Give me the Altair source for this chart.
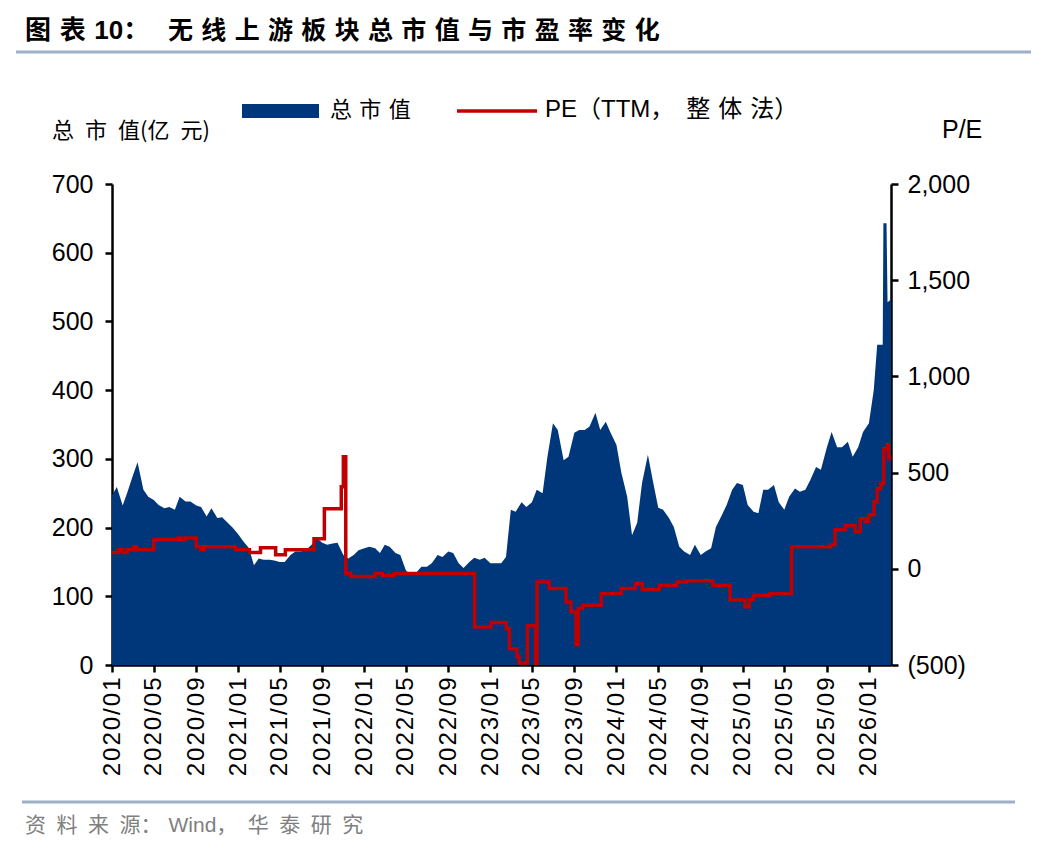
import altair as alt
import pandas as pd

# ---------------- data ----------------
# total market cap (亿元), semi-monthly samples from 2020-01-01 (1st & 15th of each month)
cap_start = "2020-01-01"
cap_values = [
    247, 259, 232, 252, 275, 295, 255, 245, 240, 233,
    228, 230, 226, 245, 238, 238, 232, 230, 216, 228,
    214, 215, 207, 200, 190, 180, 170, 145, 155, 153,
    153, 152, 150, 150, 160, 165, 165, 167, 175, 185,
    178, 175, 177, 178, 160, 155, 160, 167, 170, 172,
    170, 163, 175, 172, 163, 160, 138, 131, 135, 143,
    143, 148, 160, 157, 165, 163, 148, 141, 150, 156,
    153, 156, 148, 148, 148, 157, 226, 223, 237, 230,
    237, 255, 250, 303, 352, 342, 298, 303, 338, 342,
    342, 347, 367, 342, 354, 338, 320, 280, 245, 189,
    207, 265, 306, 269, 229, 226, 214, 201, 172, 165,
    160, 175, 160, 165, 170, 201, 218, 233, 255, 265,
    262, 233, 223, 221, 255, 255, 262, 237, 226, 245,
    257, 252, 255, 269, 288, 284, 316, 339, 317, 317,
    325, 303, 317, 339, 352, 400,
]
cap_tail_dates = ["2026-01-25", "2026-02-10", "2026-02-12", "2026-02-21", "2026-02-24", "2026-03-06"]
cap_tail_values = [466, 466, 643, 643, 528, 532]

# PE (TTM, 整体法) change points
pe_dates = [
    "2020-01-01", "2020-01-20", "2020-02-01", "2020-02-14", "2020-03-03", "2020-03-13",
    "2020-05-01", "2020-07-10", "2020-07-20", "2020-08-01", "2020-09-01", "2020-09-14",
    "2020-09-24", "2020-12-24", "2021-02-02", "2021-03-06", "2021-04-19", "2021-05-17",
    "2021-08-08", "2021-09-07", "2021-10-26", "2021-11-01", "2021-11-08", "2021-11-23",
    "2022-02-01", "2022-02-22", "2022-03-28", "2022-11-16", "2023-01-03", "2023-02-16",
    "2023-02-25", "2023-03-19", "2023-03-25", "2023-04-18", "2023-05-12", "2023-05-16",
    "2023-06-20", "2023-08-08", "2023-08-22", "2023-09-06", "2023-09-12", "2023-09-25",
    "2023-11-18", "2024-01-15", "2024-02-25", "2024-03-16", "2024-05-04", "2024-06-24",
    "2024-07-22", "2024-10-06", "2024-11-25", "2025-01-07", "2025-01-20", "2025-02-01",
    "2025-03-20", "2025-05-22", "2025-09-12", "2025-09-25", "2025-10-25", "2025-11-22",
    "2025-12-07", "2025-12-22", "2026-01-01", "2026-01-16", "2026-01-25", "2026-02-04",
    "2026-02-13", "2026-02-23", "2026-02-27", "2026-03-06",
]
pe_values = [
    85, 99, 85, 99, 114, 99,
    151, 160, 151, 160, 114, 99,
    114, 99, 85, 109, 73, 99,
    156, 312, 426, 582, -26, -40,
    -24, -36, -24, -302, -279, -312,
    -416, -456, -490, -296, -560, -68,
    -103, -172, -224, -395, -206, -189,
    -130, -103, -76, -109, -85, -68,
    -62, -85, -162, -197, -160, -137,
    -130, 114, 125, 203, 224, 192,
    260, 244, 281, 348, 416, 442,
    624, 645, 580, 560,
]

x_tick_labels = [
    "2020/01", "2020/05", "2020/09", "2021/01", "2021/05", "2021/09",
    "2022/01", "2022/05", "2022/09", "2023/01", "2023/05", "2023/09",
    "2024/01", "2024/05", "2024/09", "2025/01", "2025/05", "2025/09", "2026/01",
]
left_ticks = [0, 100, 200, 300, 400, 500, 600, 700]
right_ticks = [-500, 0, 500, 1000, 1500, 2000]

# ---------------- build tables ----------------
cap_dates = [d.strftime("%Y-%m-%d") for d in pd.date_range(cap_start, periods=len(cap_values), freq="SMS")]
cap_df = pd.DataFrame({"date": cap_dates + cap_tail_dates, "cap": cap_values + cap_tail_values})
pe_df = pd.DataFrame({"date": pe_dates, "pe": pe_values})

tick_vals = [alt.DateTime(year=int(s[:4]), month=int(s[5:]), date=1, utc=True) for s in x_tick_labels]

NAVY = "#00377A"
RED = "#C00000"
RULE = "#9DB0C8"
NUM_FONT = "Liberation Sans"
CJK_FONT = "Noto Sans CJK SC"
MIX_FONT = f"{NUM_FONT}, {CJK_FONT}"

W, H = 779, 481

x_scale = alt.Scale(
    type="utc",
    domain=[alt.DateTime(year=2020, month=1, date=1, utc=True),
            alt.DateTime(year=2026, month=3, date=6, utc=True)],
)

axis_common = dict(
    labelFont=NUM_FONT, labelColor="black",
    domainColor="black", domainWidth=2.5, tickColor="black", tickWidth=2.5,
    tickSize=7, grid=False, title=None,
)

x_enc = alt.X(
    "date:T", scale=x_scale,
    axis=alt.Axis(values=tick_vals,
                  labelExpr="join(split(utcFormat(datum.value, '%Y/%m'), ''), '\u200a')",
                  labelAngle=270, labelAlign="right", labelBaseline="middle",
                  labelFontSize=24, labelPadding=5, labelOverlap=False, labelFlush=False,
                  **axis_common),
)

area = alt.Chart(cap_df).mark_area(color=NAVY, clip=True).encode(
    x=x_enc,
    y=alt.Y("cap:Q", scale=alt.Scale(domain=[0, 700], nice=False),
            axis=alt.Axis(orient="left", values=left_ticks, labelFontSize=25,
                          labelPadding=12, **axis_common)),
)

line = alt.Chart(pe_df).mark_line(color=RED, strokeWidth=3.5, interpolate="step-after", clip=True).encode(
    x=alt.X("date:T", scale=x_scale),
    y=alt.Y("pe:Q", scale=alt.Scale(domain=[-500, 2000], nice=False),
            axis=alt.Axis(orient="right", values=right_ticks, labelFontSize=25, labelPadding=9,
                          labelExpr="datum.value < 0 ? '(' + format(-datum.value, ',') + ')' : format(datum.value, ',')",
                          **axis_common)),
)

base = alt.Chart(pd.DataFrame({"k": [0]}))


def label(text, x, y, size, font=CJK_FONT, color="black", weight="normal"):
    return base.mark_text(align="left", baseline="middle", font=font, fontSize=size,
                          color=color, fontWeight=weight).encode(
        x=alt.value(x), y=alt.value(y), text=alt.value(text))


SP3 = "\u2004"  # three-per-em space
SP2 = "\u2002"  # en space

title_a = label("图" + SP3 + "表" + SP3 + "10：", -87, -153, 26, font=MIX_FONT, weight="bold")
title_b = label(SP3.join("无线上游板块总市值与市盈率变化"), 56, -153, 25, weight="bold")
top_rule = base.mark_rule(color=RULE, strokeWidth=3).encode(
    x=alt.value(-96), x2=alt.value(920), y=alt.value(-132))
leg_rect = base.mark_rect(color=NAVY).encode(
    x=alt.value(130), x2=alt.value(207), y=alt.value(-80), y2=alt.value(-66))
leg_cap = label(SP3.join("总市值"), 218, -74, 22)
leg_line = base.mark_rule(color=RED, strokeWidth=3.5).encode(
    x=alt.value(345), x2=alt.value(425), y=alt.value(-73))
leg_pe = label("PE（TTM，" + SP2 + SP3.join("整体法") + "）", 433, -74, 24, font=MIX_FONT)
ytitle_l = label("总" + SP2 + "市" + SP2 + "值(亿" + SP2 + "元)", -60, -53, 22)
ytitle_r = label("P/E", 830, -54, 25, font=NUM_FONT)
bot_rule = base.mark_rule(color=RULE, strokeWidth=3).encode(
    x=alt.value(-90), x2=alt.value(903), y=alt.value(618))
source = label(SP2.join("资料来源") + "：" + SP3 + "Wind，" + SP2 + SP2.join("华泰研究"),
               -87, 642, 21, font=MIX_FONT, color="#808080")

plot = alt.layer(area, line).resolve_scale(y="independent")

chart = alt.layer(
    plot, title_a, title_b, top_rule, leg_rect, leg_cap, leg_line, leg_pe,
    ytitle_l, ytitle_r, bot_rule, source
).properties(
    width=W, height=H,
    autosize=alt.AutoSizeParams(type="none"),
    padding={"left": 104, "top": 176, "right": 140, "bottom": 172},
).configure_view(stroke=None)

chart.save("out.html", embed_options={"renderer": "svg", "actions": False})
